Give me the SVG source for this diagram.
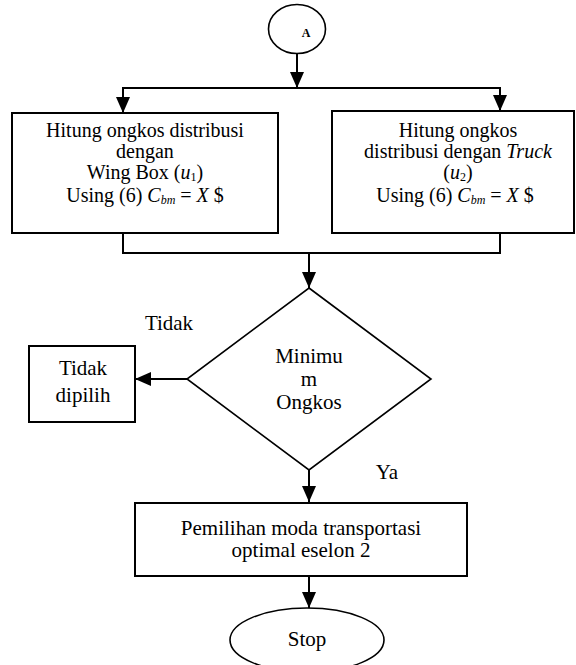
<svg xmlns="http://www.w3.org/2000/svg" width="576" height="665" viewBox="0 0 576 665">
<style>
.n{fill:#fff;stroke:#000;stroke-width:2}
.d{fill:#fff;stroke:#000;stroke-width:1.6}
.c{fill:none;stroke:#000;stroke-width:2}
text{font-family:"Liberation Serif","Times New Roman",serif;font-size:21px;fill:#000}
.b{font-size:20px}
.m{text-anchor:middle}
.i{font-style:italic}
.s{font-size:12px;font-style:italic}
.u{font-size:12px}
</style>
<defs>
<marker id="ah" markerUnits="userSpaceOnUse" markerWidth="16" markerHeight="16" viewBox="0 0 16 16" refX="16" refY="8" orient="auto">
<path d="M0,1 L16,8 L0,15 Z" fill="#000"/>
</marker>
</defs>
<rect width="576" height="665" fill="#fff"/>
<g id="connectors">
<path class="c" d="M297,54 V88" marker-end="url(#ah)"/>
<path class="c" d="M122,88 H501"/>
<path class="c" d="M123,88 V113" marker-end="url(#ah)"/>
<path class="c" d="M500,88 V111" marker-end="url(#ah)"/>
<path class="c" d="M123,233 V253 H500 V232"/>
<path class="c" d="M309,253 V288" marker-end="url(#ah)"/>
<path class="c" d="M187,379 H135" marker-end="url(#ah)"/>
<path class="c" d="M309,470 V502" marker-end="url(#ah)"/>
<path class="c" d="M309,576 V608" marker-end="url(#ah)"/>
</g>
<g id="start">
<ellipse class="d" cx="297" cy="29" rx="28.5" ry="24.5"/>
<text x="306" y="37" class="m" style="font-size:12px;font-weight:bold">A</text>
</g>
<g id="wingbox">
<rect class="n" x="12" y="113" width="266" height="120"/>
<text class="m b" x="145" y="137">Hitung ongkos distribusi</text>
<text class="m b" x="145" y="158">dengan</text>
<text class="m b" x="145" y="179">Wing Box (<tspan class="i">u</tspan><tspan class="u" dy="2">1</tspan><tspan dy="-2">)</tspan></text>
<text class="m b" x="145" y="202">Using (6) <tspan class="i">C</tspan><tspan class="s" dy="2">bm</tspan><tspan dy="-2"> = </tspan><tspan class="i">X</tspan> $</text>
</g>
<g id="truck">
<rect class="n" x="332" y="111" width="242" height="122"/>
<text class="m b" x="458" y="137">Hitung ongkos</text>
<text class="m b" x="458" y="158">distribusi dengan  <tspan class="i">Truck</tspan></text>
<text class="m b" x="458" y="179">(<tspan class="i">u</tspan><tspan class="u" dy="2">2</tspan><tspan dy="-2">)</tspan></text>
<text class="m b" x="455" y="202">Using (6) <tspan class="i">C</tspan><tspan class="s" dy="2">bm</tspan><tspan dy="-2"> = </tspan><tspan class="i">X</tspan> $</text>
</g>
<g id="decision">
<path class="d" d="M309,288 L431,379 L309,470 L187,379 Z"/>
<text class="m" x="309" y="363">Minimu</text>
<text class="m" x="309" y="386">m</text>
<text class="m" x="309" y="409">Ongkos</text>
</g>
<g id="label-tidak">
<text class="m" x="169" y="330">Tidak</text>
</g>
<g id="label-ya">
<text class="m" x="387" y="479">Ya</text>
</g>
<g id="tidak-dipilih">
<rect class="n" x="29" y="346" width="106" height="76"/>
<text class="m" x="83" y="375">Tidak</text>
<text class="m" x="83" y="402">dipilih</text>
</g>
<g id="pemilihan">
<rect class="n" x="135" y="503" width="332" height="73"/>
<text class="m" x="301" y="535">Pemilihan moda transportasi</text>
<text class="m" x="301" y="557">optimal eselon 2</text>
</g>
<g id="stop">
<ellipse class="d" cx="307" cy="640" rx="77" ry="32"/>
<text class="m" x="307" y="646">Stop</text>
</g>
</svg>
